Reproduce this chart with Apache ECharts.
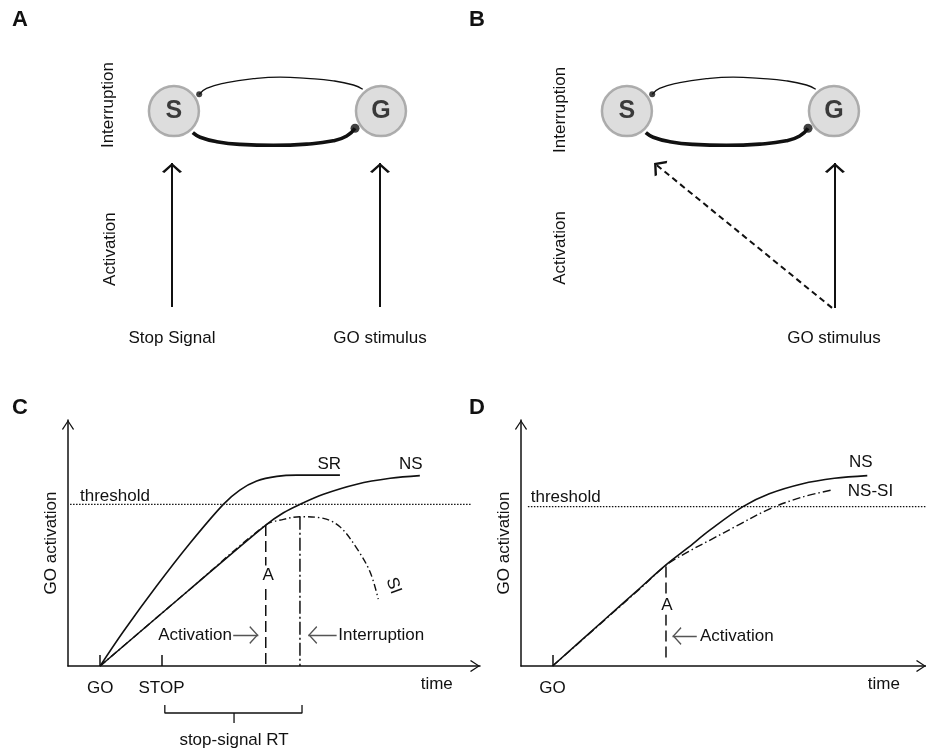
<!DOCTYPE html>
<html><head><meta charset="utf-8">
<script src="https://cdn.jsdelivr.net/npm/echarts@6/dist/echarts.min.js"></script>
<style>html,body{margin:0;padding:0;background:#fff}#c{width:926px;height:751px}</style>
</head><body><div id="c"></div>
<script>
// ================= DATA =================
// Panels A / B (diagram units, 0-100)
const nodeNames = ['S', 'G'];
const nodeX = [23.1, 87.8];
const nodeY = [76.3, 76.3];
const upperArcX = [31.0, 33.3, 39.6, 47.9, 56.3, 64.6, 72.9, 79.2, 82.1];
const upperArcY = [81.9, 83.9, 85.8, 87.1, 87.6, 87.2, 86.4, 85.0, 83.6];
const lowerArcX = [29.0, 31.3, 36.5, 43.8, 54.2, 64.6, 72.9, 77.1, 79.7];
const lowerArcY = [69.1, 67.6, 66.1, 65.2, 64.9, 65.3, 66.4, 68.0, 70.6];
// arrows: [x0, y0, x1, y1]
const arrowsA = [[22.5, 11, 22.5, 59], [87.5, 11, 87.5, 59]];
const arrowsBSolid = [[88.1, 10.7, 88.1, 59]];
const arrowsBDashed = [[87.2, 10.7, 31.6, 59]];
// annotations: [text, x, y, align, rotate]
const textA = [['Interruption', 2.5, 78.3, 'center', 90], ['Activation', 3.1, 30.3, 'center', 90],
               ['Stop Signal', 22.5, 0.7], ['GO stimulus', 87.5, 0.7]];
const textB = [['Interruption', 2.2, 76.7, 'center', 90], ['Activation', 2.2, 30.7, 'center', 90],
               ['GO stimulus', 87.8, 0.7]];

// Panel C (time 0-100, GO activation 0-100)
const tickXC = [7.8, 22.7];
const tickLabelsC = ['GO', 'STOP'];
const thresholdC = 65.7;
const srX = [7.8, 13.4, 21.5, 29.6, 37.7, 41.7, 45.8, 50.7, 55.5, 66.0];
const srY = [0, 13.9, 32.5, 49.9, 65.7, 71.5, 75.2, 77.1, 77.6, 77.6];
const nsCX = [7.8, 29.6, 48.0, 52.3, 56.3, 62.0, 70.1, 78.2, 85.4];
const nsCY = [0, 31.2, 57.3, 62.3, 65.7, 69.8, 73.9, 76.3, 77.4];
const siX = [7.8, 29.6, 48.0, 52.3, 56.3, 62.0, 66.0, 70.1, 73.3, 75.3];
const siY = [0, 31.2, 57.3, 59.6, 60.7, 60.0, 56.6, 47.8, 38.3, 27.2];
const activationXC = 48.0, activationTopC = 57.3;
const interruptXC = 56.3, interruptTopC = 60.7;
const arrowsC = [[40.1, 12.6, 46.2, 12.6], [65.2, 12.6, 58.3, 12.6]];
const bracketX = [23.5, 23.5, 56.8, 56.8];
const bracketY = [-15.9, -19.1, -19.1, -15.9];
const bracketTick = [[40.3, -19.1], [40.3, -23.2]];
const textC = [['threshold', 2.9, 69.1, 'left'], ['SR', 63.4, 82.0], ['NS', 83.2, 82.0],
               ['SI', 79.0, 32.6, 'center', -70], ['Activation', 39.8, 12.6, 'right'],
               ['Interruption', 65.6, 12.6, 'left'], ['time', 89.5, -7.3], ['stop-signal RT', 40.3, -30.1]];
const textCA = [['A', 48.6, 37.0]];

// Panel D
const tickXD = [7.8];
const tickLabelsD = ['GO'];
const thresholdD = 64.8;
const nsDX = [7.8, 20.8, 28.9, 35.8, 41.0, 46.7, 54.8, 61.3, 69.3, 77.4, 85.5];
const nsDY = [0, 19.1, 31.0, 41.1, 47.8, 55.3, 64.8, 70.0, 74.0, 76.3, 77.4];
const nssiX = [7.8, 20.8, 28.9, 35.8, 41.0, 46.7, 53.2, 61.3, 69.3, 76.6];
const nssiY = [0, 18.9, 30.7, 40.9, 46.2, 51.2, 56.9, 63.8, 68.6, 71.5];
const activationXD = 35.8, activationTopD = 40.4, activationBottomD = 2.8;
const arrowsD = [[43.4, 12.2, 37.4, 12.2]];
const textD = [['threshold', 2.4, 68.4, 'left'], ['NS', 83.9, 82.8], ['NS-SI', 86.3, 70.9],
               ['Activation', 44.2, 12.2, 'left'], ['time', 89.6, -7.3]];
const textDA = [['A', 36.0, 24.8]];

// ================= STYLE / HELPERS =================
const FONT = '"Liberation Sans", Arial, Helvetica, sans-serif';
const INK = '#111';
const BIG_ARROW = 'path://M0,-10 L0.01,-10 L0,-9.99 Z M0,0 L6,9 L4.6,10.2 L0,3.2 L-4.6,10.2 L-6,9 Z';
const THIN_ARROW = 'path://M0,-10 L0.01,-10 L0,-9.99 Z M0,0 L6,9 L5.1,9.9 L0,2 L-5.1,9.9 L-6,9 Z';

const pairs = (xs, ys) => xs.map((x, i) => [x, ys[i]]);
function curve(gi, data, style, smooth) {
  return { type: 'line', xAxisIndex: gi, yAxisIndex: gi, data: data, smooth: smooth === undefined ? 0.35 : smooth,
    symbol: 'none', clip: false, silent: true, z: 3, lineStyle: Object.assign({ color: INK, width: 1.6 }, style) };
}
function arrowLines(gi, segs, style, sym, size) {
  return { type: 'lines', coordinateSystem: 'cartesian2d', xAxisIndex: gi, yAxisIndex: gi, silent: true, z: 4,
    symbol: ['none', sym], symbolSize: size,
    lineStyle: Object.assign({ color: INK, width: 2, opacity: 1, curveness: 0 }, style),
    data: segs.map(s => ({ coords: [[s[0], s[1]], [s[2], s[3]]] })) };
}
function texts(gi, items, extra) {
  return { type: 'scatter', xAxisIndex: gi, yAxisIndex: gi, symbolSize: 0.01, clip: false, silent: true, z: 6,
    itemStyle: { color: INK, opacity: 1 },
    data: items.map(t => ({ value: [t[1], t[2]], name: t[0],
      label: Object.assign({ show: true, position: 'inside', formatter: t[0], align: t[3] || 'center',
        verticalAlign: 'middle', rotate: t[4] || 0, fontSize: 17, color: INK, opacity: 1,
        textBorderWidth: 0, fontFamily: FONT }, extra || {}) })) };
}
function labelFor(vals, labels, v) {
  let best = 0;
  vals.forEach((x, i) => { if (Math.abs(x - v) < Math.abs(vals[best] - v)) best = i; });
  return labels[best];
}
function diagramSeries(gi, arrowsSolid, arrowsDashed, textItems) {
  const s = [
    curve(gi, pairs(upperArcX, upperArcY), { width: 1.3 }, 0.5),
    curve(gi, pairs(lowerArcX, lowerArcY), { width: 3.6 }, 0.5),
    { type: 'scatter', xAxisIndex: gi, yAxisIndex: gi, clip: false, silent: true, z: 4,
      symbolSize: (v, p) => p.dataIndex === 0 ? 6 : 9, itemStyle: { color: INK },
      data: [[upperArcX[0], upperArcY[0]], [lowerArcX[lowerArcX.length - 1], lowerArcY[lowerArcY.length - 1]]] },
    { type: 'scatter', xAxisIndex: gi, yAxisIndex: gi, clip: false, silent: true, z: 5, symbolSize: 50,
      itemStyle: { color: '#d4d4d4', borderColor: '#9b9b9b', borderWidth: 2.5 },
      label: { show: true, position: 'inside', formatter: p => p.name, fontSize: 25, fontWeight: 'bold', color: INK,
        textBorderWidth: 0, fontFamily: FONT },
      data: nodeNames.map((n, i) => ({ name: n, value: [nodeX[i], nodeY[i]] })) },
    arrowLines(gi, arrowsSolid, { width: 2 }, BIG_ARROW, [12, 20]),
    texts(gi, textItems)
  ];
  if (arrowsDashed) s.push(arrowLines(gi, arrowsDashed, { width: 2, type: [6, 4] }, BIG_ARROW, [12, 20]));
  return s;
}
function plotXAxis(gi, ticks, labels) {
  return { gridIndex: gi, type: 'value', min: 0, max: 100,
    axisLine: { show: true, onZero: false, symbol: ['none', THIN_ARROW], symbolSize: [12, 20], lineStyle: { color: INK, width: 1.5 } },
    axisTick: { show: true, inside: true, length: 11, customValues: ticks, lineStyle: { color: INK, width: 1.5 } },
    axisLabel: { show: true, customValues: ticks, formatter: v => labelFor(ticks, labels, v), margin: 14, fontSize: 17, color: INK, fontFamily: FONT },
    splitLine: { show: false } };
}
function plotYAxis(gi) {
  return { gridIndex: gi, type: 'value', min: 0, max: 100,
    axisLine: { show: true, onZero: false, symbol: ['none', THIN_ARROW], symbolSize: [12, 20], lineStyle: { color: INK, width: 1.5 } },
    axisTick: { show: false }, axisLabel: { show: false }, splitLine: { show: false },
    name: 'GO activation', nameLocation: 'middle', nameGap: 8, nameRotate: 90,
    nameTextStyle: { fontSize: 17, color: INK, fontFamily: FONT } };
}
const hidden = gi => ({ gridIndex: gi, type: 'value', min: 0, max: 100, show: false });
const letter = (t, l, tp) => ({ text: t, left: l, top: tp, padding: 0, textStyle: { fontSize: 22, fontWeight: 'bold', color: INK, fontFamily: FONT } });

const grey = '#555';
const option = {
  animation: false,
  backgroundColor: '#fff',
  textStyle: { fontFamily: FONT },
  title: [letter('A', 12, 9), letter('B', 469, 9), letter('C', 12, 397), letter('D', 469, 397)],
  grid: [
    { left: 100, top: 40, width: 320, height: 300 },
    { left: 553, top: 40, width: 320, height: 300 },
    { left: 68, top: 420, width: 412, height: 246 },
    { left: 521, top: 420, width: 412, height: 246 }
  ],
  xAxis: [hidden(0), hidden(1), plotXAxis(2, tickXC, tickLabelsC), plotXAxis(3, tickXD, tickLabelsD)],
  yAxis: [hidden(0), hidden(1), plotYAxis(2), plotYAxis(3)],
  series: [].concat(
    diagramSeries(0, arrowsA, null, textA),
    diagramSeries(1, arrowsBSolid, arrowsBDashed, textB),
    [
      // Panel C
      curve(2, [[0.5, thresholdC], [97.8, thresholdC]], { width: 1.1, type: [1.5, 1.5] }, false),
      curve(2, pairs(srX, srY), {}),
      curve(2, pairs(nsCX, nsCY), {}),
      curve(2, pairs(siX, siY), { width: 1.4, type: [7, 3, 1.5, 3] }),
      curve(2, [[activationXC, activationTopC], [activationXC, 0]], { width: 1.5, type: [11, 5] }, false),
      curve(2, [[interruptXC, interruptTopC], [interruptXC, 0]], { width: 1.5, type: [13, 3, 2, 3] }, false),
      curve(2, pairs(bracketX, bracketY), { width: 1.3 }, false),
      curve(2, bracketTick, { width: 1.3 }, false),
      arrowLines(2, arrowsC, { width: 1.3, color: grey }, THIN_ARROW, [11, 18]),
      texts(2, textC),
      texts(2, textCA, { backgroundColor: '#fff', padding: [1, 0] }),
      // Panel D
      curve(3, [[1.7, thresholdD], [100, thresholdD]], { width: 1.1, type: [1.5, 1.5] }, false),
      curve(3, pairs(nsDX, nsDY), {}),
      curve(3, pairs(nssiX, nssiY), { width: 1.4, type: [8, 3, 1.5, 3] }),
      curve(3, [[activationXD, activationTopD], [activationXD, activationBottomD]], { width: 1.5, type: [11, 5] }, false),
      arrowLines(3, arrowsD, { width: 1.3, color: grey }, THIN_ARROW, [11, 18]),
      texts(3, textD),
      texts(3, textDA, { backgroundColor: '#fff', padding: [1, 0] })
    ]
  )
};
const chart = echarts.init(document.getElementById('c'), null, { renderer: 'canvas' });
chart.setOption(option);
</script>
</body></html>
